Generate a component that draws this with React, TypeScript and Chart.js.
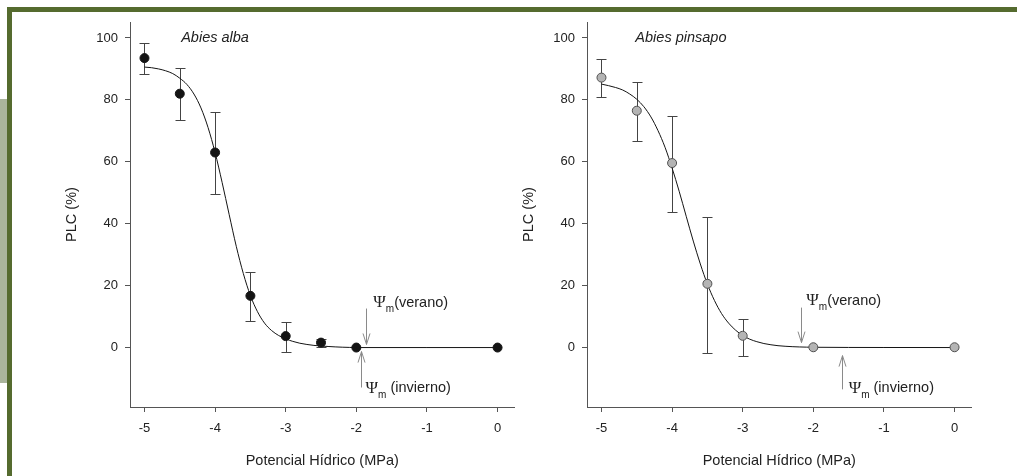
import React, { useEffect, useRef } from "react";
import { Chart, registerables } from "chart.js";

Chart.register(...registerables);

const SANS = '"Liberation Sans", Arial, Helvetica, sans-serif';
const SERIF = '"Liberation Serif", "Times New Roman", "DejaVu Serif", serif';

// ---- data ----
const X_TICKS = [-5, -4, -3, -2, -1, 0];
const Y_TICKS = [0, 20, 40, 60, 80, 100];

const ALBA_X = [-5, -4.5, -4, -3.5, -3, -2.5, -2, 0];
const ALBA_PLC = [93.5, 82, 63, 16.7, 3.7, 1.6, 0, 0];
const ALBA_ERR_HIGH = [98.5, 90.2, 76, 24.5, 8.3, 2.9, null, null];
const ALBA_ERR_LOW = [88.5, 73.5, 49.5, 8.5, -1.5, 0.2, null, null];

const PINSAPO_X = [-5, -4.5, -4, -3.5, -3, -2, 0];
const PINSAPO_PLC = [87.2, 76.5, 59.6, 20.6, 3.8, 0.1, 0.1];
const PINSAPO_ERR_HIGH = [93.2, 85.8, 74.8, 42.3, 9.2, null, null];
const PINSAPO_ERR_LOW = [81.0, 66.8, 43.8, -1.6, -2.6, null, null];

const CURVE_X = [
  -5.0, -4.9, -4.8, -4.7, -4.6, -4.5, -4.4, -4.3, -4.2, -4.1, -4.0, -3.9, -3.8, -3.7, -3.6, -3.5,
  -3.4, -3.3, -3.2, -3.1, -3.0, -2.9, -2.8, -2.7, -2.6, -2.5, -2.4, -2.3, -2.2, -2.1, -2.0, -1.0, 0,
];
const ALBA_CURVE = [
  90.6, 90.4, 90.0, 89.4, 88.5, 87.0, 85.0, 81.9, 77.4, 71.1, 63.0, 53.3, 42.9, 32.7, 23.9, 16.8,
  11.6, 7.9, 5.5, 3.9, 2.8, 2.0, 1.4, 1.0, 0.7, 0.5, 0.35, 0.22, 0.12, 0.05, 0, 0, 0,
];
const PINSAPO_CURVE = [
  85.1, 84.6, 84.0, 83.2, 81.9, 80.2, 77.8, 74.5, 70.1, 64.7, 58.0, 50.5, 42.4, 34.4, 27.0, 20.5,
  15.2, 11.0, 7.9, 5.6, 3.9, 2.7, 1.9, 1.3, 0.9, 0.6, 0.42, 0.29, 0.2, 0.14, 0.1, 0.02, 0,
];

const ALBA_TITLE = "Abies alba";
const PINSAPO_TITLE = "Abies pinsapo";
const X_TITLE = "Potencial Hídrico (MPa)";
const Y_TITLE = "PLC (%)";

// annotation anchors (data coords)
const ALBA_TITLE_AT = [-4.48, 100];
const PINSAPO_TITLE_AT = [-4.52, 100];
const ALBA_VERANO = { x: -1.86, from: 12.6, to: 1.0, lx: -1.76, ly: 14.5 };
const ALBA_INVIERNO = { x: -1.935, from: -12.9, to: -1.3, lx: -1.87, ly: -13.1 };
const PINSAPO_VERANO = { x: -2.18, from: 12.9, to: 1.6, lx: -2.1, ly: 15.2 };
const PINSAPO_INVIERNO = { x: -1.6, from: -13.5, to: -2.6, lx: -1.5, ly: -13.2 };

type Spec = {
  title: string;
  titleAt: number[];
  px: number[];
  py: number[];
  errHigh: (number | null)[];
  errLow: (number | null)[];
  curve: number[];
  fill: string;
  stroke: string;
  verano: { x: number; from: number; to: number; lx: number; ly: number };
  invierno: { x: number; from: number; to: number; lx: number; ly: number };
};

const ALBA: Spec = {
  title: ALBA_TITLE,
  titleAt: ALBA_TITLE_AT,
  px: ALBA_X,
  py: ALBA_PLC,
  errHigh: ALBA_ERR_HIGH,
  errLow: ALBA_ERR_LOW,
  curve: ALBA_CURVE,
  fill: "#141414",
  stroke: "#141414",
  verano: ALBA_VERANO,
  invierno: ALBA_INVIERNO,
};

const PINSAPO: Spec = {
  title: PINSAPO_TITLE,
  titleAt: PINSAPO_TITLE_AT,
  px: PINSAPO_X,
  py: PINSAPO_PLC,
  errHigh: PINSAPO_ERR_HIGH,
  errLow: PINSAPO_ERR_LOW,
  curve: PINSAPO_CURVE,
  fill: "#b4b4b4",
  stroke: "#505050",
  verano: PINSAPO_VERANO,
  invierno: PINSAPO_INVIERNO,
};

function drawPsiLabel(ctx: CanvasRenderingContext2D, x: number, y: number, rest: string) {
  ctx.fillStyle = "#222";
  ctx.textAlign = "left";
  ctx.textBaseline = "middle";
  ctx.font = `17px ${SERIF}`;
  ctx.fillText("Ψ", x, y);
  let cx = x + ctx.measureText("Ψ").width;
  ctx.font = `10px ${SANS}`;
  ctx.fillText("m", cx, y + 7);
  cx += ctx.measureText("m").width;
  ctx.font = `14.5px ${SANS}`;
  ctx.fillText(rest, cx, y);
}

function drawArrow(ctx: CanvasRenderingContext2D, x: number, yFrom: number, yTo: number) {
  const dir = Math.sign(yTo - yFrom);
  ctx.beginPath();
  ctx.moveTo(x, yFrom);
  ctx.lineTo(x, yTo);
  ctx.moveTo(x - 3.5, yTo - dir * 11);
  ctx.lineTo(x, yTo);
  ctx.lineTo(x + 3.5, yTo - dir * 11);
  ctx.stroke();
}

function makeOverlay(spec: Spec) {
  return {
    id: "overlay",
    beforeDatasetsDraw(chart: any) {
      const { ctx } = chart;
      const x = chart.scales.x;
      const y = chart.scales.y;
      ctx.save();
      ctx.strokeStyle = "#444";
      ctx.lineWidth = 1;
      spec.px.forEach((xv, i) => {
        const hi = spec.errHigh[i];
        const lo = spec.errLow[i];
        if (hi == null || lo == null) return;
        const px = Math.round(x.getPixelForValue(xv)) + 0.5;
        const p1 = Math.round(y.getPixelForValue(hi)) + 0.5;
        const p2 = Math.round(y.getPixelForValue(lo)) + 0.5;
        ctx.beginPath();
        ctx.moveTo(px, p1);
        ctx.lineTo(px, p2);
        ctx.moveTo(px - 5, p1);
        ctx.lineTo(px + 5, p1);
        ctx.moveTo(px - 5, p2);
        ctx.lineTo(px + 5, p2);
        ctx.stroke();
      });
      ctx.restore();
    },
    afterDatasetsDraw(chart: any) {
      const { ctx } = chart;
      const x = chart.scales.x;
      const y = chart.scales.y;
      ctx.save();
      // species title
      ctx.fillStyle = "#222";
      ctx.font = `italic 14.5px ${SANS}`;
      ctx.textAlign = "left";
      ctx.textBaseline = "middle";
      ctx.fillText(spec.title, x.getPixelForValue(spec.titleAt[0]), y.getPixelForValue(spec.titleAt[1]));
      // arrows
      ctx.strokeStyle = "#8a8a8a";
      ctx.lineWidth = 1;
      const v = spec.verano;
      const w = spec.invierno;
      const vx = Math.round(x.getPixelForValue(v.x)) + 0.5;
      drawArrow(ctx, vx, y.getPixelForValue(v.from), y.getPixelForValue(v.to));
      const wx = Math.round(x.getPixelForValue(w.x)) + 0.5;
      drawArrow(ctx, wx, y.getPixelForValue(w.from), y.getPixelForValue(w.to));
      drawPsiLabel(ctx, x.getPixelForValue(v.lx), y.getPixelForValue(v.ly), "(verano)");
      drawPsiLabel(ctx, x.getPixelForValue(w.lx), y.getPixelForValue(w.ly), " (invierno)");
      ctx.restore();
    },
  };
}

function makeConfig(spec: Spec): any {
  const axisColor = "#555";
  return {
    type: "scatter",
    data: {
      datasets: [
        {
          type: "scatter",
          data: spec.px.map((xv, i) => ({ x: xv, y: spec.py[i] })),
          pointRadius: 4.5,
          pointBackgroundColor: spec.fill,
          pointBorderColor: spec.stroke,
          pointBorderWidth: 1,
          showLine: false,
        },
        {
          type: "line",
          data: CURVE_X.map((xv, i) => ({ x: xv, y: spec.curve[i] })),
          borderColor: "#141414",
          borderWidth: 1,
          pointRadius: 0,
          cubicInterpolationMode: "monotone",
          fill: false,
        },
      ],
    },
    options: {
      responsive: false,
      animation: false,
      devicePixelRatio: 1,
      layout: { padding: { left: 0, top: 22, right: 5, bottom: 0 } },
      plugins: { legend: { display: false }, tooltip: { enabled: false } },
      events: [],
      scales: {
        x: {
          type: "linear",
          min: -5.205,
          max: 0.24,
          afterBuildTicks: (s: any) => {
            s.ticks = X_TICKS.map((v) => ({ value: v }));
          },
          afterFit: (s: any) => {
            s.height = 69;
          },
          ticks: {
            color: "#222",
            font: { family: SANS, size: 13 },
            padding: 9,
            maxRotation: 0,
            autoSkip: false,
            callback: (v: any) => String(v),
          },
          grid: { drawOnChartArea: false, drawTicks: true, tickLength: 5, tickColor: axisColor, tickWidth: 1 },
          border: { display: true, color: axisColor, width: 1 },
          title: {
            display: true,
            text: X_TITLE,
            color: "#222",
            font: { family: SANS, size: 14.5 },
            padding: { top: 0, bottom: 6 },
          },
        },
        y: {
          type: "linear",
          min: -19.2,
          max: 105.16,
          afterBuildTicks: (s: any) => {
            s.ticks = Y_TICKS.map((v) => ({ value: v }));
          },
          afterFit: (s: any) => {
            s.width = 130;
          },
          ticks: {
            color: "#222",
            font: { family: SANS, size: 13 },
            padding: 7,
            autoSkip: false,
            callback: (v: any) => String(v),
          },
          grid: { drawOnChartArea: false, drawTicks: true, tickLength: 5, tickColor: axisColor, tickWidth: 1 },
          border: { display: true, color: axisColor, width: 1 },
          title: {
            display: true,
            text: Y_TITLE,
            color: "#222",
            font: { family: SANS, size: 14.5 },
            padding: { top: 63, bottom: 0 },
          },
        },
      },
    },
    plugins: [makeOverlay(spec)],
  };
}

function Panel({ spec, left }: { spec: Spec; left: number }) {
  const ref = useRef<HTMLCanvasElement>(null);
  useEffect(() => {
    if (!ref.current) return;
    const chart = new Chart(ref.current, makeConfig(spec));
    return () => chart.destroy();
  }, [spec]);
  return (
    <canvas
      ref={ref}
      width={520}
      height={476}
      style={{ position: "absolute", left, top: 0, width: 520, height: 476, display: "block" }}
    />
  );
}

export default function App() {
  const olive = "#556b2f";
  return (
    <div
      style={{
        position: "fixed",
        left: 0,
        top: 0,
        width: 1017,
        height: 476,
        background: "#fff",
        overflow: "hidden",
      }}
    >
      <div style={{ position: "absolute", left: 0, top: 99, width: 7, height: 284, background: "#aab59c" }} />
      <div style={{ position: "absolute", left: 7, top: 7, width: 1010, height: 5, background: olive }} />
      <div style={{ position: "absolute", left: 7, top: 7, width: 5, height: 469, background: olive }} />
      <Panel spec={ALBA} left={0} />
      <Panel spec={PINSAPO} left={457} />
    </div>
  );
}
